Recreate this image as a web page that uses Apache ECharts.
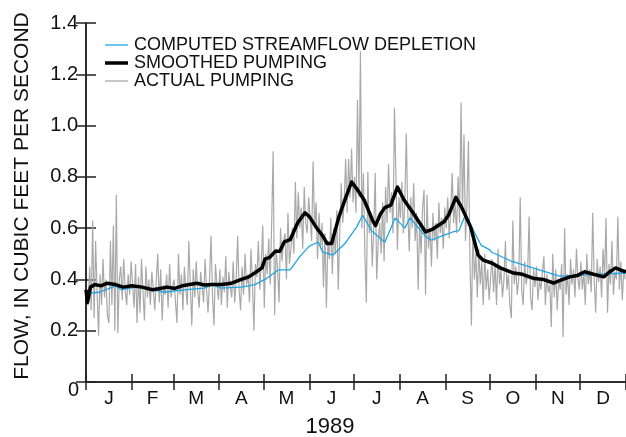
<!DOCTYPE html>
<html><head><meta charset="utf-8">
<script src="https://cdn.jsdelivr.net/npm/echarts@6/dist/echarts.min.js"></script>
<style>html,body{margin:0;padding:0;background:#fff}#c{width:626px;height:437px}</style>
</head><body><div id="c"></div>
<script>
// Month tick boundaries (day of year) and labels
const monthStarts = [0,31,59,90,120,151,181,212,243,273,304,334,365];
const monthLabels = ['J','F','M','A','M','J','J','A','S','O','N','D'];
const yTicks = [0,0.2,0.4,0.6,0.8,1.0,1.2,1.4];
const seriesNames = ['COMPUTED STREAMFLOW DEPLETION','SMOOTHED PUMPING','ACTUAL PUMPING'];

// Actual pumping, daily values by month
const janPump = [0.36,0.30,0.45,0.28,0.63,0.25,0.55,0.35,0.18,0.42,0.30,0.48,0.33,0.40,0.26,0.23,0.55,0.30,0.61,0.20,0.73,0.19,0.40,0.45,0.32,0.48,0.36,0.30,0.42,0.34,0.47];
const febPump = [0.38,0.29,0.46,0.23,0.41,0.27,0.48,0.35,0.24,0.45,0.33,0.40,0.30,0.43,0.36,0.28,0.40,0.50,0.31,0.44,0.24,0.38,0.34,0.42,0.29,0.46,0.33,0.37];
const marPump = [0.40,0.31,0.23,0.50,0.34,0.42,0.28,0.45,0.36,0.30,0.55,0.38,0.22,0.44,0.33,0.47,0.35,0.29,0.43,0.37,0.31,0.48,0.36,0.27,0.40,0.57,0.34,0.22,0.46,0.38,0.32];
const aprPump = [0.44,0.30,0.41,0.35,0.49,0.29,0.43,0.37,0.33,0.47,0.31,0.40,0.57,0.36,0.28,0.45,0.34,0.50,0.38,0.42,0.31,0.52,0.39,0.20,0.46,0.41,0.55,0.36,0.47,0.61];
const mayPump = [0.29,0.50,0.42,0.56,0.38,0.62,0.90,0.26,0.52,0.44,0.31,0.60,0.47,0.55,0.58,0.40,0.66,0.46,0.52,0.60,0.50,0.78,0.56,0.74,0.60,0.68,0.52,0.76,0.62,0.58,0.72];
const junPump = [0.64,0.55,0.86,0.60,0.70,0.48,0.66,0.52,0.62,0.37,0.58,0.29,0.55,0.48,0.64,0.42,0.60,0.50,0.67,0.36,0.58,0.775,0.62,0.70,0.87,0.66,0.87,0.72,0.91,0.70];
const julPump = [0.80,0.66,1.10,0.72,1.29,0.60,0.815,0.50,0.31,0.82,0.58,0.66,0.45,0.60,0.815,0.40,0.55,0.62,0.50,0.70,0.47,0.76,0.62,0.85,0.66,0.74,0.58,1.07,0.80,0.515,0.72];
const augPump = [0.64,0.78,0.58,0.70,0.97,0.66,0.51,0.72,0.60,0.775,0.55,0.66,0.36,0.62,0.50,0.68,0.75,0.34,0.73,0.52,0.60,0.45,0.66,0.55,0.62,0.48,0.70,0.58,0.64,0.52,0.68];
const sepPump = [0.60,0.72,0.56,0.66,0.815,0.62,0.70,0.58,0.80,0.62,1.09,0.66,0.965,0.55,0.70,0.94,0.48,0.22,0.60,0.40,0.50,0.33,0.52,0.38,0.47,0.30,0.50,0.36,0.44,0.32];
const octPump = [0.41,0.48,0.35,0.46,0.30,0.52,0.38,0.44,0.33,0.40,0.55,0.36,0.42,0.30,0.25,0.63,0.38,0.45,0.34,0.40,0.72,0.36,0.30,0.47,0.38,0.42,0.645,0.33,0.28,0.44,0.37];
const novPump = [0.45,0.32,0.40,0.36,0.43,0.49,0.30,0.42,0.35,0.38,0.215,0.50,0.33,0.44,0.28,0.40,0.36,0.46,0.175,0.60,0.34,0.42,0.30,0.48,0.38,0.44,0.33,0.52,0.40,0.36];
const decPump = [0.47,0.36,0.43,0.30,0.50,0.38,0.44,0.35,0.66,0.40,0.27,0.48,0.39,0.45,0.33,0.52,0.41,0.64,0.27,0.46,0.38,0.55,0.34,0.43,0.40,0.645,0.36,0.47,0.32,0.44,0.40];

// Smoothed pumping (day, flow)
const smoothDay  = [0,1,3,6,10,14,20,25,31,38,45,50,55,60,65,70,75,80,85,92,98,105,110,114,119,121,124,128,131,134,138,143,148,151,156,160,163,166,171,175,179.5,183.5,188,193.7,195.7,199,202,206,210.5,215,221,225,229.5,234,238,242,245,250,254,260,265,268.5,274.6,280,289,295,302,309,316,320,327,332,337,343,350,354,358,362,365];
const smoothFlow = [0.36,0.31,0.37,0.38,0.375,0.385,0.38,0.37,0.375,0.37,0.36,0.365,0.37,0.365,0.375,0.38,0.385,0.378,0.38,0.38,0.385,0.40,0.41,0.425,0.445,0.48,0.485,0.51,0.51,0.546,0.555,0.62,0.66,0.645,0.60,0.57,0.54,0.54,0.645,0.71,0.78,0.75,0.71,0.63,0.61,0.655,0.68,0.69,0.76,0.71,0.66,0.625,0.585,0.595,0.61,0.625,0.65,0.72,0.68,0.605,0.495,0.475,0.463,0.445,0.425,0.42,0.405,0.40,0.386,0.395,0.41,0.415,0.43,0.42,0.41,0.43,0.445,0.435,0.43];

// Computed streamflow depletion (day, flow)
const deplDay  = [0,3.4,9,20,24,34,45,53,68,80,86,91,105,114,121,130,138,144.6,151,157,160,167,175,183,187,193,202,209,215.5,219,230,233.5,242,248,252,256,261,267,273,274,288,302,320,335,365];
const deplFlow = [0.34,0.347,0.35,0.375,0.36,0.37,0.36,0.35,0.36,0.366,0.38,0.366,0.37,0.38,0.40,0.437,0.437,0.49,0.53,0.546,0.506,0.495,0.54,0.605,0.65,0.59,0.545,0.64,0.60,0.64,0.565,0.553,0.573,0.585,0.59,0.645,0.60,0.534,0.515,0.507,0.47,0.445,0.413,0.417,0.425];

const actualPump = [].concat(janPump,febPump,marPump,aprPump,mayPump,junPump,julPump,augPump,sepPump,octPump,novPump,decPump);
const labelPos = monthStarts.slice(0,12).map((s,i)=>(s+monthStarts[i+1])/2);

const chart = echarts.init(document.getElementById('c'), null, {renderer:'canvas'});
const FONT = 'Liberation Sans';
const axisCol = '#222';
const colDepl = '#1ea5e3', colSmooth = '#000', colActual = '#a9a9a9';

function txt(x,y,s,align,size,rot){
  return {type:'text', x:x, y:y, rotation:rot||0, z:10,
    style:{text:s, fontSize:size||18, fontFamily:FONT, fill:'#111', align:align||'left', verticalAlign:'middle'}};
}
function legLine(y,color,w){
  return {type:'line', z:10, shape:{x1:105,y1:y,x2:128,y2:y}, style:{stroke:color, lineWidth:w}};
}

chart.setOption({
  animation:false,
  backgroundColor:'#fff',
  grid:{left:86, right:0, top:23, bottom:55},
  xAxis:[{
    type:'value', min:0, max:365, position:'bottom',
    axisLine:{lineStyle:{color:axisCol, width:1.5}},
    axisTick:{inside:true, length:8, customValues:monthStarts, lineStyle:{color:axisCol, width:1.5}},
    axisLabel:{customValues:labelPos, margin:7, fontFamily:FONT, fontSize:19, color:'#111',
      formatter:function(v){const i=labelPos.findIndex(p=>Math.abs(p-v)<0.01);return i>=0?monthLabels[i]:'';}},
    splitLine:{show:false}
  },{
    type:'value', min:0, max:365, position:'top',
    axisLine:{lineStyle:{color:axisCol, width:1.5}},
    axisTick:{inside:true, length:8, customValues:monthStarts, lineStyle:{color:axisCol, width:1.5}},
    axisLabel:{show:false}, splitLine:{show:false}
  }],
  yAxis:[{
    type:'value', min:0, max:1.4, interval:0.2, position:'left',
    axisLine:{show:true, lineStyle:{color:axisCol, width:1.5}},
    axisTick:{inside:true, length:10, lineStyle:{color:axisCol, width:1.5}},
    axisLabel:{margin:8, fontFamily:FONT, fontSize:20, color:'#111',
      formatter:function(v){return v===0?'':v.toFixed(1);}},
    splitLine:{show:false}
  },{
    type:'value', min:0, max:1.4, interval:0.2, position:'right',
    axisLine:{show:true, lineStyle:{color:axisCol, width:1.5}},
    axisTick:{inside:true, length:10, lineStyle:{color:axisCol, width:1.5}},
    axisLabel:{show:false}, splitLine:{show:false}
  }],
  graphic:[
    txt(79,390,'0','right',20),
    txt(330,427,'1989','center',22),
    txt(22,196,'FLOW, IN CUBIC FEET PER SECOND','center',21,Math.PI/2),
    legLine(45,colDepl,1.3), txt(134,45,seriesNames[0],'left',18),
    legLine(63,colSmooth,3.5), txt(134,63,seriesNames[1],'left',18),
    legLine(81,colActual,1.3), txt(134,81,seriesNames[2],'left',18)
  ],
  series:[
    {name:seriesNames[2], type:'line', z:2, showSymbol:false, symbol:'none',
      lineStyle:{color:colActual, width:1.2},
      data:actualPump.map((v,i)=>[i+0.5,v])},
    {name:seriesNames[0], type:'line', z:3, showSymbol:false, symbol:'none',
      lineStyle:{color:colDepl, width:1.3},
      data:deplDay.map((d,i)=>[d,deplFlow[i]])},
    {name:seriesNames[1], type:'line', z:4, showSymbol:false, symbol:'none',
      lineStyle:{color:colSmooth, width:3.5, join:'round'},
      data:smoothDay.map((d,i)=>[d,smoothFlow[i]])}
  ]
});
</script>
</body></html>
